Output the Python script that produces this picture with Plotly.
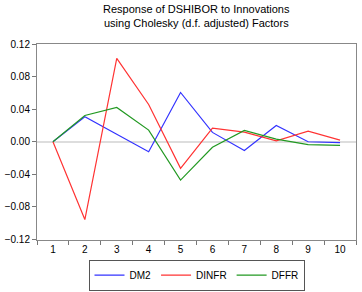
import plotly.graph_objects as go

periods = ["1", "2", "3", "4", "5", "6", "7", "8", "9", "10"]
dm2 = [0.0, 0.0306, 0.0092, -0.0123, 0.0605, 0.0115, -0.0107, 0.0199, 0.0, -0.001]
dinfr = [0.0, -0.0955, 0.1023, 0.0458, -0.0326, 0.0167, 0.0119, 0.0012, 0.0131, 0.002]
dffr = [0.0, 0.0322, 0.0422, 0.0143, -0.047, -0.0068, 0.0139, 0.0032, -0.0036, -0.0044]
y_ticks = [0.12, 0.08, 0.04, 0.0, -0.04, -0.08, -0.12]
title_lines = ["Response of DSHIBOR to Innovations", "using Cholesky (d.f. adjusted) Factors"]

font = "Liberation Sans, Arial, sans-serif"
H = 292
T, B = 44, 47

fig = go.Figure()
for name, vals, col in [("DM2", dm2, "#3333ff"), ("DINFR", dinfr, "#ff3333"), ("DFFR", dffr, "#229922")]:
    fig.add_trace(go.Scatter(x=periods, y=vals, mode="lines", name=name,
                             line=dict(color=col, width=1.2)))

plot_h = H - T - B
for i, t in enumerate(title_lines):
    fig.add_annotation(text=t, x=0.5, xref="paper", xanchor="center",
                       y=1 + (T - (8 + 14 * i)) / plot_h, yref="paper", yanchor="middle",
                       showarrow=False, font=dict(family=font, size=11, color="black"))

fig.update_layout(
    width=362, height=H,
    margin=dict(l=32, r=5, t=T, b=B),
    paper_bgcolor="white", plot_bgcolor="white",
    font=dict(family=font, size=10, color="black"),
    showlegend=True,
    legend=dict(orientation="h", x=0.5, xanchor="center", xref="paper",
                y=0.005, yref="container", yanchor="bottom",
                bordercolor="#555555", borderwidth=1, font=dict(size=10),
                itemwidth=30, tracegroupgap=0),
)

fig.update_xaxes(type="category", range=[-0.5, 9.5], tickson="boundaries", ticks="outside", ticklen=4,
                 tickcolor="#777777", showline=True, mirror=True, linecolor="#888888",
                 showgrid=False, zeroline=False, tickfont=dict(size=10))
fig.update_yaxes(range=[-0.12, 0.12], tickvals=y_ticks, tickformat=".2f", ticks="outside",
                 ticklen=4, tickcolor="#777777", showline=True, mirror=True,
                 linecolor="#888888", showgrid=False, zeroline=True,
                 zerolinecolor="#dddddd", zerolinewidth=2, tickfont=dict(size=10))

fig.write_html("out.html", config={"displayModeBar": False},
               post_script="document.body.style.margin='0';")
